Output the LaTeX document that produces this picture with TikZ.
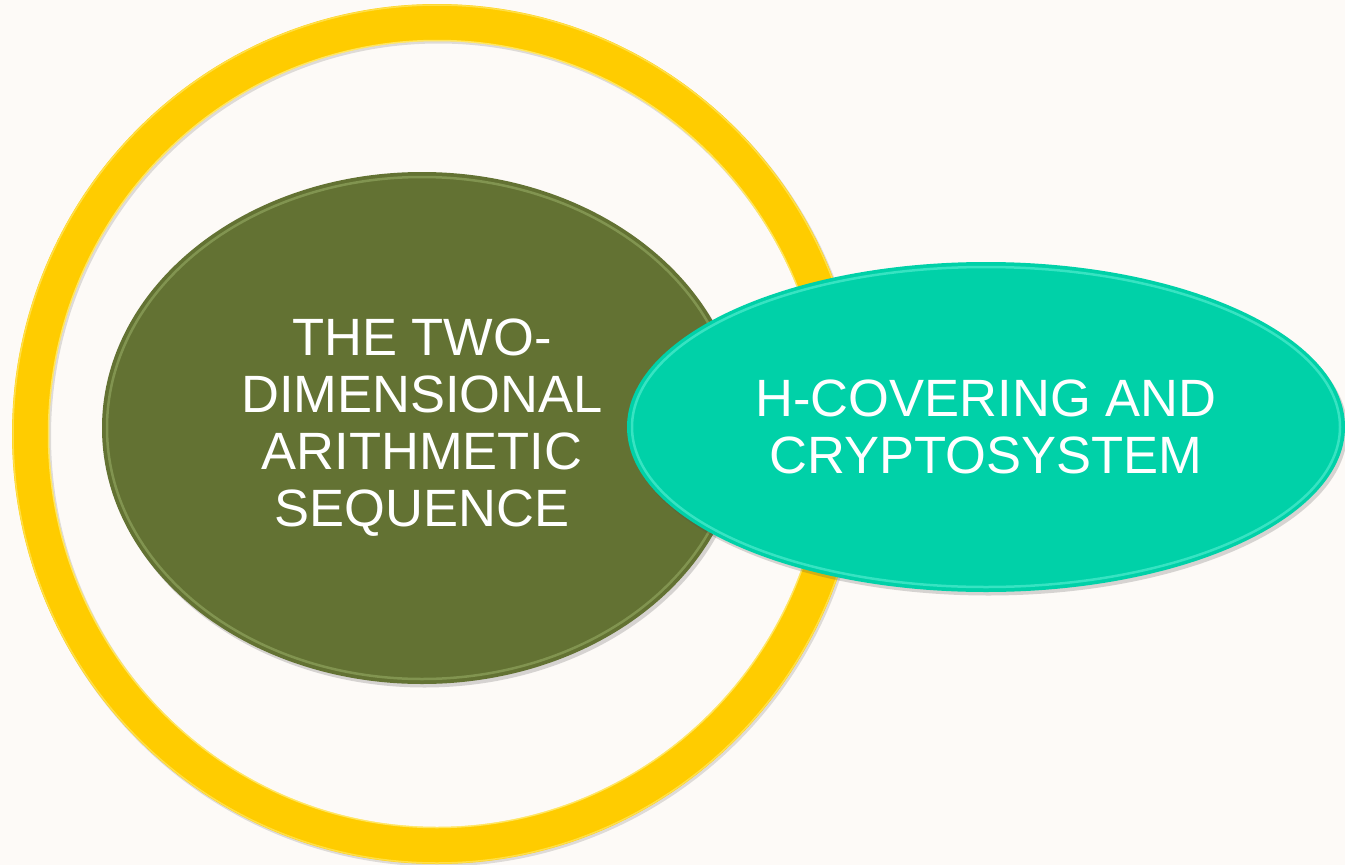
\documentclass[tikz,border=0pt]{standalone}
\usepackage{fontspec}
\setmainfont{Liberation Sans}
\usetikzlibrary{shapes.geometric,shadows}

\definecolor{paper}{RGB}{253,250,247}
\definecolor{ringgold}{RGB}{255,204,0}
\definecolor{ringlight}{RGB}{255,236,120}
\definecolor{olive}{RGB}{99,114,51}
\definecolor{olivelight}{RGB}{160,182,110}
\definecolor{teal}{RGB}{0,209,168}
\definecolor{teallight}{RGB}{110,245,220}

\tikzset{
  ringstyle/.style={ellipse, draw=ringgold, line width=37, inner sep=0pt},
  blob/.style={ellipse, inner sep=0pt, text=white, align=center,
    font=\fontsize{52.5}{57}\selectfont,
    drop shadow={shadow xshift=2.5pt, shadow yshift=-3.5pt, opacity=0.22, fill=black!70}},
  rim/.style={line width=2.5, opacity=0.5}
}

\begin{document}
\begin{tikzpicture}[x=1pt, y=-1pt]
  % canvas
  \fill[paper] (0,0) rectangle (1345,865);
  \useasboundingbox (0,0) rectangle (1345,865);

  % golden ring with its soft shadow
  \draw[black, opacity=0.12, line width=38] (438.5,436) ellipse [x radius=406.5, y radius=411.5];
  \node[ringstyle, minimum width=813, minimum height=823] (ring) at (437,434) {};
  \draw[ringlight, line width=1.5, opacity=0.8] (ring.center) ellipse [x radius=388.5, y radius=393.5];
  \draw[ringlight, line width=1.5, opacity=0.6] (ring.center) ellipse [x radius=424, y radius=429];

  % olive ellipse
  \node[blob, fill=olive, minimum width=640, minimum height=512] (olivebox) at (422,428)
    {THE TWO-\\DIMENSIONAL\\ARITHMETIC\\SEQUENCE};
  \draw[rim, olivelight] (olivebox.center) ellipse [x radius=315, y radius=251];

  % teal ellipse
  \node[blob, fill=teal, minimum width=718, minimum height=330] (tealbox) at (986,427)
    {H-COVERING AND\\CRYPTOSYSTEM};
  \draw[rim, teallight] (tealbox.center) ellipse [x radius=354, y radius=160];
\end{tikzpicture}
\end{document}
